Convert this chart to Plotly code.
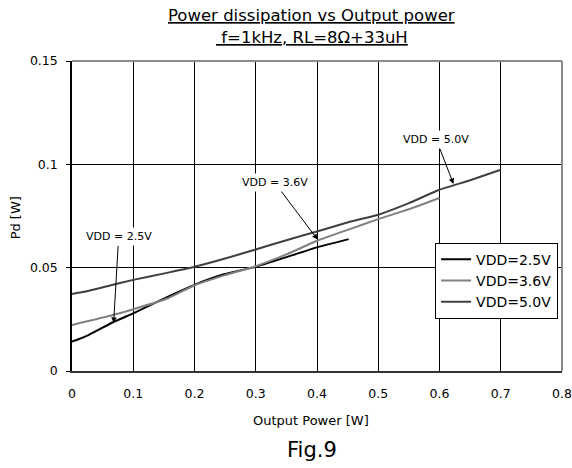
import plotly.graph_objects as go

# ---- data ----
x_25 = [0, 0.027, 0.067, 0.1, 0.157, 0.2, 0.248, 0.3, 0.35, 0.4, 0.4516]
y_25 = [0.0142, 0.0174, 0.0236, 0.0279, 0.0360, 0.0417, 0.0468, 0.0504, 0.0551, 0.0598, 0.0638]

x_36 = [0, 0.067, 0.1, 0.157, 0.2, 0.25, 0.3, 0.35, 0.4, 0.45, 0.5, 0.55, 0.6]
y_36 = [0.0223, 0.0271, 0.0299, 0.0352, 0.0415, 0.0464, 0.0507, 0.0564, 0.0630, 0.0683, 0.0735, 0.0783, 0.0837]

x_50 = [0, 0.02, 0.067, 0.1, 0.157, 0.2, 0.25, 0.3, 0.35, 0.4, 0.455, 0.5, 0.55, 0.6, 0.65, 0.7]
y_50 = [0.0373, 0.0383, 0.0417, 0.0441, 0.0476, 0.0504, 0.0544, 0.0588, 0.0633, 0.0675, 0.0723, 0.0756, 0.0812, 0.0877, 0.0923, 0.0974]

series_names = ["VDD=2.5V", "VDD=3.6V", "VDD=5.0V"]
series_colors = ["#000000", "#808080", "#404040"]

x_ticks = [0, 0.1, 0.2, 0.3, 0.4, 0.5, 0.6, 0.7, 0.8]
x_ticklabels = ["0", "0.1", "0.2", "0.3", "0.4", "0.5", "0.6", "0.7", "0.8"]
y_ticks = [0, 0.05, 0.1, 0.15]
y_ticklabels = ["0", "0.05", "0.1", "0.15"]

title_line1 = "Power dissipation vs Output power"
title_line2 = "\u00a0f=1kHz, RL=8Ω+33uH"
x_title = "Output Power [W]"
y_title = "Pd [W]"
caption = "Fig.9"

# callouts: label, arrow-head point (x, y)
callout_labels = ["VDD = 2.5V", "VDD = 3.6V", "VDD = 5.0V"]
callout_x = [0.068, 0.401, 0.6228]
callout_y = [0.0233, 0.0636, 0.0905]
callout_ax = [5, -43, -17]
callout_ay = [-86, -57, -44]

FONT = "DejaVu Sans"

fig = go.Figure()
for xs, ys, name, col in zip([x_25, x_36, x_50], [y_25, y_36, y_50], series_names, series_colors):
    fig.add_trace(go.Scatter(
        x=xs, y=ys, mode="lines", name=name,
        line=dict(color=col, width=2, shape="spline", smoothing=0.4),
    ))

for lab, hx, hy, ax, ay in zip(callout_labels, callout_x, callout_y, callout_ax, callout_ay):
    fig.add_annotation(
        x=hx, y=hy, xref="x", yref="y", text=lab,
        showarrow=True, ax=ax, ay=ay, axref="pixel", ayref="pixel",
        arrowhead=2, arrowsize=1.1, arrowwidth=1, arrowcolor="#000000",
        bgcolor="#ffffff", borderpad=2,
        font=dict(family=FONT, size=11, color="#000000"),
    )

# title lines
fig.add_annotation(x=0.4897, y=1.148, xref="paper", yref="paper",
                   text="<u>" + title_line1 + "</u>", showarrow=False,
                   xanchor="center", yanchor="middle",
                   font=dict(family=FONT, size=16.5, color="#000000"))
fig.add_annotation(x=0.4897, y=1.0774, xref="paper", yref="paper",
                   text="<u>" + title_line2 + "</u>", showarrow=False,
                   xanchor="center", yanchor="middle",
                   font=dict(family=FONT, size=16.5, color="#000000"))

# axis titles and caption
fig.add_annotation(x=0.487, y=-0.160, xref="paper", yref="paper", text=x_title,
                   showarrow=False, xanchor="center", yanchor="middle",
                   font=dict(family=FONT, size=13, color="#000000"))
fig.add_annotation(x=-0.1156, y=0.4935, xref="paper", yref="paper", text=y_title,
                   showarrow=False, xanchor="center", yanchor="middle", textangle=-90,
                   font=dict(family=FONT, size=13, color="#000000"))
fig.add_annotation(x=0.4895, y=-0.2548, xref="paper", yref="paper", text=caption,
                   showarrow=False, xanchor="center", yanchor="middle",
                   font=dict(family=FONT, size=21, color="#000000"))

# top & right frame (gray)
fig.add_shape(type="line", xref="paper", yref="paper", x0=0, x1=1, y0=1, y1=1,
              line=dict(color="#8a8a8a", width=2))
fig.add_shape(type="line", xref="paper", yref="paper", x0=1, x1=1, y0=0, y1=1,
              line=dict(color="#8a8a8a", width=2))

fig.update_layout(
    width=572, height=468,
    margin=dict(l=72, r=10, t=61, b=97, autoexpand=False),
    paper_bgcolor="#ffffff", plot_bgcolor="#ffffff",
    font=dict(family=FONT, color="#000000"),
    showlegend=True,
    legend=dict(
        x=0.992, y=0.414, xanchor="right", yanchor="top",
        bgcolor="#ffffff", bordercolor="#000000", borderwidth=1,
        font=dict(family=FONT, size=14, color="#000000"),
        itemwidth=30, tracegroupgap=0,
    ),
)

fig.update_xaxes(
    range=[0, 0.8], tickvals=x_ticks, ticktext=x_ticklabels,
    showgrid=True, gridcolor="#000000", gridwidth=1,
    showline=True, linecolor="#333333", linewidth=1.5,
    zeroline=False, ticks="", ticklabelstandoff=10, automargin=False,
    tickfont=dict(family=FONT, size=12.5, color="#000000"),
)
fig.update_yaxes(
    range=[0, 0.15], tickvals=y_ticks, ticktext=y_ticklabels,
    showgrid=True, gridcolor="#000000", gridwidth=1,
    showline=True, linecolor="#000000", linewidth=1.5,
    zeroline=False, ticks="outside", ticklen=4, tickcolor="#000000", ticklabelstandoff=6,
    automargin=False,
    tickfont=dict(family=FONT, size=12.5, color="#000000"),
)

fig.write_html("out.html", config={"displayModeBar": False},
               post_script="document.body.style.margin='0';")
